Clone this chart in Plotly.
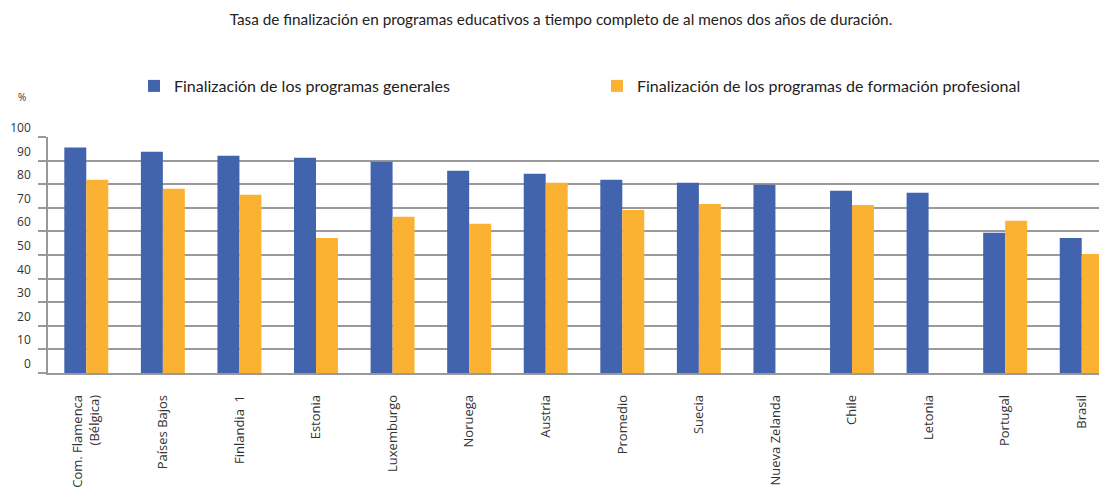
import plotly.graph_objects as go

categories = ["Com. Flamenca<br>(Bélgica)", "Países Bajos", "Finlandia  1", "Estonia", "Luxemburgo",
              "Noruega", "Austria", "Promedio", "Suecia", "Nueva Zelanda", "Chile", "Letonia",
              "Portugal", "Brasil"]
generales = [95.5, 93.8, 92.1, 91.2, 89.5, 85.7, 84.4, 81.9, 80.6, 79.8, 77.2, 76.4, 59.4, 57.2]
profesional = [81.9, 78.1, 75.5, 57.2, 66.2, 63.2, 80.6, 69.1, 71.6, None, 71.2, None, 64.5, 50.4]
y_ticks = [0, 10, 20, 30, 40, 50, 60, 70, 80, 90, 100]

# the page body has an 8px default margin, so the figure is drawn 8px in from the window edge
W, H = 1099, 485
BLUE = "#4263AD"
ORANGE = "#FBB233"

fig = go.Figure()
fig.add_trace(go.Bar(x=categories, y=generales, name="Finalización de los programas generales",
                     marker=dict(color=BLUE, line=dict(width=0))))
fig.add_trace(go.Bar(x=categories, y=profesional, name="Finalización de los programas de formación profesional",
                     marker=dict(color=ORANGE, line=dict(width=0))))

fig.update_layout(
    width=W, height=H,
    margin=dict(l=40, r=0, t=129, b=120, autoexpand=False),
    paper_bgcolor="white", plot_bgcolor="white",
    barmode="group", bargap=0.426, bargroupgap=0,
    font=dict(family="Open Sans", color="#333333"),
    title=dict(text="Tasa de finalización en programas educativos a tiempo completo de al menos dos años de duración.",
               x=553 / W, xanchor="center", xref="container",
               y=1 - 12 / H, yanchor="middle", yref="container",
               font=dict(family="Lato", size=15.3, color="#222222")),
    legend=dict(orientation="h", xref="container", yref="container",
                x=126 / W, xanchor="left", y=1 - 78 / H, yanchor="middle",
                entrywidth=418, entrywidthmode="pixels",
                font=dict(family="Lato", size=16, color="#222222"),
                bgcolor="rgba(0,0,0,0)", itemclick=False),
    showlegend=True,
)

fig.update_xaxes(
    type="category", range=[-0.5, 13.33],
    tickangle=-90, tickfont=dict(family="Open Sans", size=13, color="#333333"),
    showgrid=False, showline=True, linecolor="#999999", linewidth=1.5,
    ticks="", ticklabelstandoff=15, fixedrange=True, automargin=False,
)
fig.update_yaxes(
    range=[0, 100], tickvals=y_ticks, ticktext=[str(v) for v in y_ticks],
    showgrid=True, gridcolor="#9a9a9a", gridwidth=1.5,
    showline=True, linecolor="#999999", linewidth=1.5,
    ticks="outside", ticklen=8, tickcolor="#9a9a9a", tickwidth=1.5,
    ticklabelposition="outside top", ticklabelstandoff=13,
    tickfont=dict(family="Open Sans", size=12, color="#333333"),
    zeroline=False, fixedrange=True, automargin=False,
)

fig.add_annotation(text="%", xref="paper", yref="paper", x=-26 / 1059, y=(365 - 89) / 236,
                   xanchor="center", yanchor="middle", showarrow=False,
                   font=dict(family="Open Sans", size=10, color="#333333"))

fig.write_html("out.html")
